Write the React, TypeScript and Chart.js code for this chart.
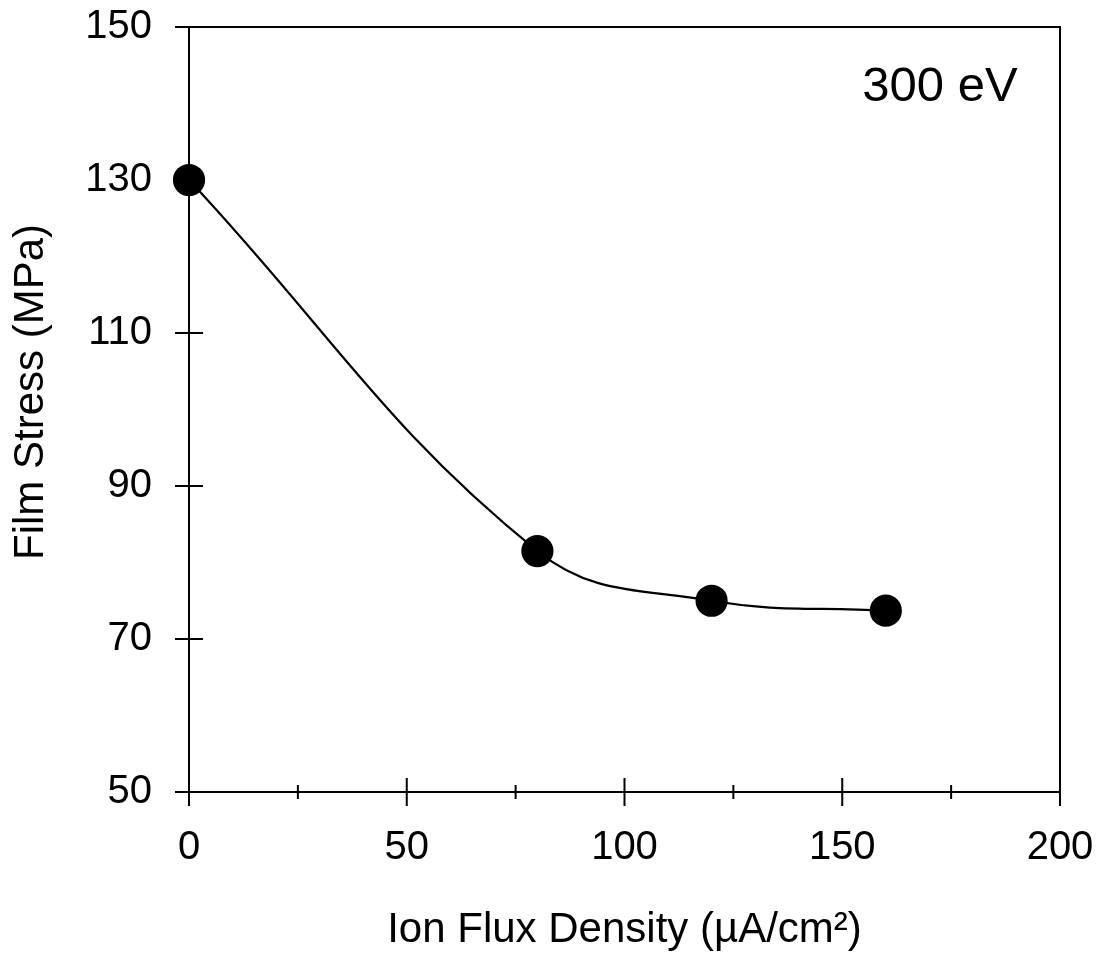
import React, { useEffect, useRef } from "react";
import { Chart, registerables } from "chart.js";

Chart.register(...registerables);

const fluxDensity = [0, 80, 120, 160];
const filmStress = [130, 81.5, 75.0, 73.7];
const xTicks = [0, 50, 100, 150, 200];
const xMinorTicks = [25, 75, 125, 175];
const yTicks = [50, 70, 90, 110, 130, 150];
const xTitle = "Ion Flux Density (\u00B5A/cm\u00B2)";
const yTitle = "Film Stress (MPa)";
const annotation = "300 eV";

const FONT = "Arial, 'Liberation Sans', Helvetica, sans-serif";

const framePlugin = {
  id: "frameAndTicks",
  afterDraw(chart: any) {
    const { ctx, chartArea } = chart;
    const xs = chart.scales.x;
    const ys = chart.scales.y;
    const { left, right, top, bottom } = chartArea;
    ctx.save();
    ctx.strokeStyle = "#000";
    ctx.lineWidth = 2;
    ctx.beginPath();
    ctx.rect(left, top, right - left, bottom - top);
    ctx.stroke();
    ctx.beginPath();
    for (const v of xTicks) {
      const px = xs.getPixelForValue(v);
      ctx.moveTo(px, bottom - 14);
      ctx.lineTo(px, bottom + 14);
    }
    for (const v of xMinorTicks) {
      const px = xs.getPixelForValue(v);
      ctx.moveTo(px, bottom - 7);
      ctx.lineTo(px, bottom + 7);
    }
    for (const v of yTicks) {
      const py = ys.getPixelForValue(v);
      ctx.moveTo(left - 14, py);
      ctx.lineTo(left + 14, py);
    }
    ctx.stroke();

    ctx.fillStyle = "#000";
    ctx.textAlign = "center";
    ctx.textBaseline = "middle";
    ctx.font = `42px ${FONT}`;
    ctx.fillText(xTitle, (left + right) / 2, 930);
    ctx.save();
    ctx.translate(31, 392);
    ctx.rotate(-Math.PI / 2);
    ctx.fillText(yTitle, 0, 0);
    ctx.restore();
    ctx.font = `49px ${FONT}`;
    ctx.fillText(annotation, 940, 87);
    ctx.restore();
  },
};

const zeroPad = (s: any) => {
  s.paddingTop = 0;
  s.paddingBottom = 0;
  s.paddingLeft = 0;
  s.paddingRight = 0;
};

export default function App() {
  const ref = useRef<HTMLCanvasElement>(null);
  useEffect(() => {
    if (!ref.current) return;
    const chart = new Chart(ref.current, {
      type: "line",
      data: {
        datasets: [
          {
            data: fluxDensity.map((x, i) => ({ x, y: filmStress[i] })),
            borderColor: "#000",
            backgroundColor: "#000",
            borderWidth: 2.2,
            pointRadius: 15,
            pointBackgroundColor: "#000",
            pointBorderColor: "#000",
            tension: 0.4,
            clip: false as any,
          },
        ],
      },
      options: {
        animation: false,
        responsive: false,
        layout: { autoPadding: false, padding: { top: 27, right: 53, left: 0, bottom: 0 } } as any,
        plugins: { legend: { display: false }, tooltip: { enabled: false } },
        scales: {
          x: {
            type: "linear",
            min: 0,
            max: 200,
            border: { display: false },
            grid: { display: false, drawTicks: false },
            afterBuildTicks: (s: any) => {
              s.ticks = xTicks.map((v) => ({ value: v }));
            },
            afterFit: (s: any) => {
              s.height = 165;
              zeroPad(s);
            },
            ticks: {
              padding: 32,
              color: "#000",
              font: { family: FONT, size: 40 },
              maxRotation: 0,
            },
          },
          y: {
            type: "linear",
            min: 50,
            max: 150,
            border: { display: false },
            grid: { display: false, drawTicks: false },
            afterBuildTicks: (s: any) => {
              s.ticks = yTicks.map((v) => ({ value: v }));
            },
            afterFit: (s: any) => {
              s.width = 189;
              zeroPad(s);
            },
            ticks: {
              padding: 37,
              color: "#000",
              font: { family: FONT, size: 40 },
            },
          },
        },
      },
      plugins: [framePlugin],
    });
    return () => chart.destroy();
  }, []);
  return (
    <div style={{ position: "absolute", left: 0, top: 0, width: 1113, height: 957, background: "#fff" }}>
      <canvas ref={ref} width={1113} height={957} style={{ width: 1113, height: 957 }} />
    </div>
  );
}
